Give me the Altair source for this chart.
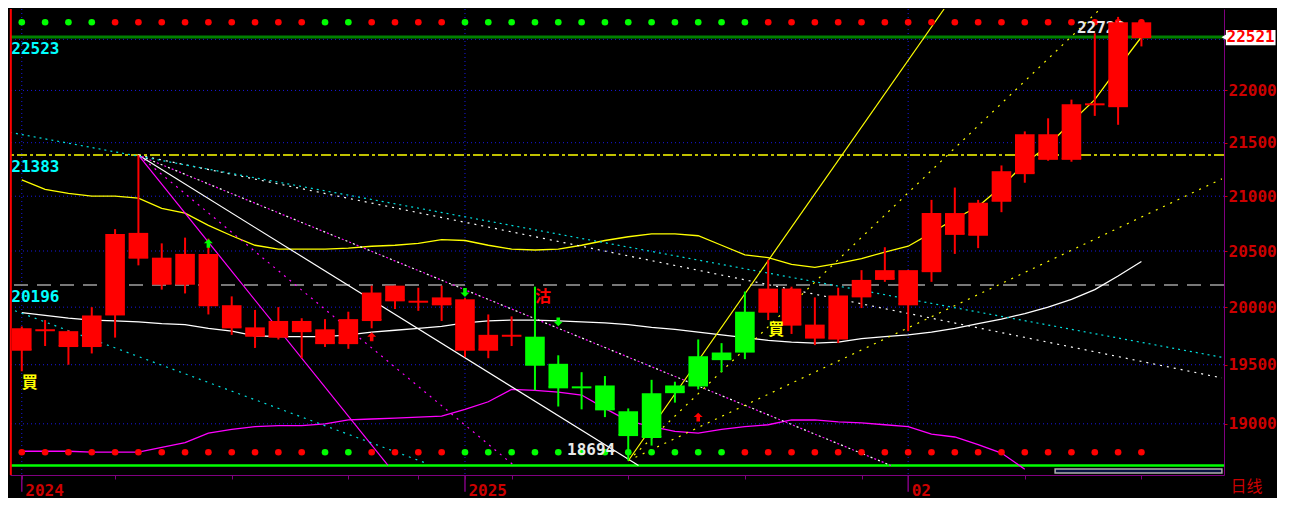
import altair as alt
import pandas as pd

# ---------------- data ----------------
idx = list(range(49))
high = [19831, 19887, 19798, 20000, 20698, 21383, 20569, 20621, 20612, 20095,
        19976, 20000, 19903, 19895, 19960, 20190, 20190, 20172, 20190, 20080,
        19936, 19919, 20181, 19581, 19436, 19403, 19129, 19371, 19355, 19718,
        19686, 20138, 20422, 20181, 20086, 20172, 20328, 20534, 20330, 20966,
        21080, 20966, 21286, 21607, 21732, 21911, 22560, 22723, 22700]
low = [19444, 19661, 19500, 19597, 19734, 20371, 20155, 20121, 19936, 19758,
       19645, 19718, 19556, 19653, 19637, 19815, 19984, 19968, 19879, 19565,
       19556, 19661, 19282, 19145, 19121, 19056, 18694, 18819, 19178, 19290,
       19436, 19548, 19887, 19766, 19669, 19686, 19992, 20224, 19790, 20224,
       20474, 20526, 20853, 21125, 21330, 21321, 21755, 21670, 22430]
body_top = [19815, 19798, 19790, 19927, 20655, 20664, 20440, 20474, 20474, 20017,
            19823, 19879, 19879, 19806, 19895, 20129, 20190, 20048, 20086, 20069,
            19758, 19750, 19742, 19508, 19307, 19323, 19105, 19258, 19323, 19573,
            19605, 19960, 20164, 20164, 19847, 20103, 20241, 20328, 20328, 20845,
            20845, 20940, 21232, 21580, 21580, 21866, 21866, 22669, 22669]
body_bot = [19629, 19798, 19661, 19661, 19936, 20440, 20207, 20207, 20017, 19823,
            19750, 19742, 19790, 19686, 19686, 19887, 20060, 20048, 20025, 19629,
            19629, 19750, 19500, 19307, 19307, 19121, 18906, 18890, 19266, 19323,
            19548, 19613, 19960, 19847, 19734, 19726, 20095, 20250, 20025, 20319,
            20655, 20647, 20958, 21214, 21348, 21348, 21866, 21848, 22521]
candle_col = ["R", "R", "R", "R", "R", "R", "R", "R", "R", "R", "R", "R", "R", "R", "R", "R", "R",
              "R", "R", "R", "R", "R", "G", "G", "G", "G", "G", "G", "G", "G", "G", "G", "R", "R",
              "R", "R", "R", "R", "R", "R", "R", "R", "R", "R", "R", "R", "R", "R", "R"]
top_dot_col = ["G", "G", "G", "G", "R", "R", "R", "R", "R", "R", "R", "R", "R", "G", "G", "R", "R",
               "R", "R", "G", "G", "G", "G", "G", "G", "G", "G", "G", "G", "G", "G", "G", "R", "R",
               "R", "R", "R", "R", "R", "R", "R", "R", "R", "R", "R", "R", "R", "R", "R"]
bot_dot_col = ["R", "R", "R", "R", "R", "R", "R", "R", "R", "R", "R", "R", "R", "G", "G", "R", "R",
               "R", "R", "G", "G", "G", "G", "G", "G", "G", "G", "G", "G", "G", "G", "R", "R", "R",
               "R", "R", "R", "R", "R", "R", "R", "R", "R", "R", "R", "R", "R", "R", "R"]

ma_upper = [21152, 21063, 21027, 21000, 21000, 20983, 20888, 20845, 20733, 20638,
            20552, 20517, 20517, 20517, 20526, 20543, 20552, 20569, 20603, 20595,
            20552, 20517, 20509, 20517, 20552, 20595, 20629, 20655, 20655, 20638,
            20552, 20466, 20440, 20379, 20353, 20388, 20431, 20491, 20543, 20664,
            20793, 20905, 21089, 21304, 21473, 21696, 21911, 22220, 22523]
ma_mid = [19952, 19927, 19903, 19887, 19879, 19871, 19855, 19847, 19815, 19790,
          19750, 19742, 19742, 19742, 19758, 19782, 19798, 19815, 19831, 19863,
          19879, 19887, 19887, 19879, 19871, 19863, 19847, 19823, 19806, 19782,
          19758, 19734, 19710, 19694, 19686, 19694, 19726, 19742, 19758, 19782,
          19815, 19855, 19895, 19944, 20000, 20069, 20155, 20276, 20405]
ma_lower = [18772, 18772, 18772, 18764, 18764, 18764, 18804, 18843, 18922, 18953,
            18976, 18984, 18984, 19000, 19032, 19040, 19048, 19056, 19064, 19121,
            19185, 19290, 19282, 19266, 19242, 19129, 19024, 18976, 18937, 18922,
            18953, 18976, 18992, 19032, 19032, 19016, 19008, 18992, 18976, 18914,
            18890, 18827, 18757, 18624]

# straight trend lines: start / end (candle index, price)
trend_x0 = [5, 5, 5, 5, 5, -0.505, -0.29, 26, 26, 26]
trend_p0 = [21383, 21383, 21383, 21383, 21383, 21598, 19968, 18694, 18694, 18694]
trend_x1 = [15.7, 21.1, 26.44, 37.26, 51.45, 51.45, 17.39, 39.54, 46.23, 51.45]
trend_p1 = [18655, 18655, 18655, 18655, 19387, 19564, 18670, 22802, 22802, 21161]

levels = [22523, 21383, 20196]
grid_prices = [22500, 22000, 21500, 21000, 20500, 20000, 19500, 19000]
axis_prices = [19000, 19500, 20000, 20500, 21000, 21500, 22000]
grid_idx = [0, 19, 38]
tick_idx = [0, 4, 9, 14, 17, 19, 21, 26, 31, 36, 38, 43, 48]
major_labels = ["2024", "2025", "02"]
last_price = 22521
bottom_line_price = 18655
top_dot_price = 22669
bot_dot_price = 18764
hi_label = 22723
lo_label = 18694

sig_i = [0, 32, 22]
sig_p = [19347, 19798, 20086]
sig_t = ["買", "買", "沽"]
sig_c = ["#ffff00", "#ffff00", "#ff0000"]
arr_i = [19, 23, 8, 15, 29]
arr_p = [20129, 19871, 20569, 19742, 19056]
arr_dir = ["down", "down", "up", "up", "up"]
arr_c = ["#00ff00", "#00ff00", "#00ff00", "#ff0000", "#ff0000"]

# ---------------- styling ----------------
RED, GREEN = "#ff0000", "#00ff00"
PURPLE = "#800080"
AXRED = "#cc0000"
MONO = "DejaVu Sans Mono"
X_DOMAIN = [-0.505, 51.54]
Y_DOMAIN = [18577, 22802]
W, H = 1214, 466
UP_ARROW = "M0,-1 L1,0 L0.4,0 L0.4,1 L-0.4,1 L-0.4,0 L-1,0 Z"
DOWN_ARROW = "M0,1 L1,0 L0.4,0 L0.4,-1 L-0.4,-1 L-0.4,0 L-1,0 Z"

xs = alt.Scale(domain=X_DOMAIN, nice=False, zero=False)
ys = alt.Scale(type="log", domain=Y_DOMAIN, nice=False, zero=False)
lab_expr = ("datum.value == 0 ? '%s' : datum.value == 19 ? '%s' : datum.value == 38 ? '%s' : ''"
            % tuple(major_labels))
x_axis = alt.Axis(values=tick_idx, labelExpr=lab_expr, grid=False, tickColor=PURPLE,
                  domainColor=PURPLE, tickSize=4, labelAlign="left", labelBaseline="top",
                  labelOffset=3, labelPadding=3, labelColor=AXRED, labelFont=MONO,
                  labelFontSize=16, labelFontWeight="bold", labelOverlap=False,
                  labelFlush=False, labelBound=False)
y_axis = alt.Axis(orient="right", values=axis_prices, format="d", grid=False,
                  tickColor=AXRED, tickSize=3, domainColor=PURPLE, labelPadding=1,
                  labelColor=AXRED, labelFont=MONO, labelFontSize=16,
                  labelFontWeight="bold", labelOverlap=False, labelFlush=False)


def X(f):
    return alt.X(f, type="quantitative", scale=xs, axis=x_axis, title=None)


def Y(f):
    return alt.Y(f, type="quantitative", scale=ys, axis=y_axis, title=None)


layers = []

# grid
layers.append(alt.Chart(pd.DataFrame({"p": grid_prices})).mark_rule(
    color="#1818e0", strokeDash=[1, 3], strokeWidth=1).encode(y=Y("p")))
layers.append(alt.Chart(pd.DataFrame({"i": grid_idx})).mark_rule(
    color="#1818e0", strokeDash=[1, 3], strokeWidth=1).encode(x=X("i")))

# level lines
layers.append(alt.Chart(pd.DataFrame({"p": [levels[2]]})).mark_rule(
    color="#a0a0a0", strokeDash=[14, 9], strokeWidth=1.5).encode(y=Y("p")))
layers.append(alt.Chart(pd.DataFrame({"p": [levels[1]]})).mark_rule(
    color="#ffff00", strokeDash=[10, 3, 3, 3], strokeWidth=1.5).encode(y=Y("p")))
layers.append(alt.Chart(pd.DataFrame({"p": [levels[0]]})).mark_rule(
    color="#008000", strokeWidth=3).encode(y=Y("p")))
layers.append(alt.Chart(pd.DataFrame({"p": [bottom_line_price]})).mark_rule(
    color="#00ff00", strokeWidth=2.5).encode(y=Y("p")))

# moving-average style lines
layers.append(alt.Chart(pd.DataFrame({"i": idx, "p": ma_upper})).mark_line(
    color="#ffff00", strokeWidth=1.3, clip=True).encode(x=X("i"), y=Y("p")))
layers.append(alt.Chart(pd.DataFrame({"i": idx, "p": ma_mid})).mark_line(
    color="#ffffff", strokeWidth=1.3, clip=True).encode(x=X("i"), y=Y("p")))
layers.append(alt.Chart(pd.DataFrame({"i": list(range(len(ma_lower))), "p": ma_lower})).mark_line(
    color="#ff00ff", strokeWidth=1.3, clip=True).encode(x=X("i"), y=Y("p")))

# trend lines
styles = [
    [("#ff00ff", None, 0)],
    [("#ff00ff", [2, 5], 0)],
    [("#ffffff", None, 0)],
    [("#ffffff", [2, 6], 0), ("#ff00ff", [2, 6], 4)],
    [("#ffffff", [2, 5], 0)],
    [("#00e0e0", [2, 4], 0)],
    [("#00e0e0", [2, 5], 0)],
    [("#ffff00", None, 0)],
    [("#ffff00", [2, 6], 0)],
    [("#ffff00", [2, 6], 0)],
]
for k in range(len(trend_x0)):
    df = pd.DataFrame({"i": [trend_x0[k], trend_x1[k]], "p": [trend_p0[k], trend_p1[k]]})
    for col, dash, off in styles[k]:
        kw = dict(color=col, strokeWidth=1.2, clip=True)
        if dash:
            kw["strokeDash"] = dash
            kw["strokeDashOffset"] = off
        layers.append(alt.Chart(df).mark_line(**kw).encode(x=X("i"), y=Y("p")))

# signal dot rows
dots = pd.DataFrame({"i": idx, "tc": top_dot_col, "bc": bot_dot_col,
                     "tp": [top_dot_price] * 49, "bp": [bot_dot_price] * 49})
dot_scale = alt.Scale(domain=["R", "G"], range=[RED, GREEN])
layers.append(alt.Chart(dots).mark_circle(size=44, opacity=1).encode(
    x=X("i"), y=Y("tp"), color=alt.Color("tc:N", scale=dot_scale, legend=None)))
layers.append(alt.Chart(dots).mark_circle(size=44, opacity=1).encode(
    x=X("i"), y=Y("bp"), color=alt.Color("bc:N", scale=dot_scale, legend=None)))

# level labels
layers.append(alt.Chart(pd.DataFrame({"i": [-0.45] * 3, "p": levels, "t": [str(v) for v in levels]}))
              .mark_text(align="left", baseline="top", dy=4, color="#00ffff", font=MONO,
                         fontSize=16, fontWeight="bold")
              .encode(x=X("i"), y=Y("p"), text="t:N"))
# extreme labels
layers.append(alt.Chart(pd.DataFrame({"i": [47], "p": [hi_label], "t": [str(hi_label)]}))
              .mark_text(align="right", baseline="top", dx=7, dy=3, color="#e8e8e8", font=MONO,
                         fontSize=16, fontWeight="bold")
              .encode(x=X("i"), y=Y("p"), text="t:N"))
layers.append(alt.Chart(pd.DataFrame({"i": [26], "p": [lo_label], "t": [str(lo_label)]}))
              .mark_text(align="right", baseline="bottom", dx=-13, dy=-3, color="#e8e8e8", font=MONO,
                         fontSize=16, fontWeight="bold")
              .encode(x=X("i"), y=Y("p"), text="t:N"))

# candles
cdf = pd.DataFrame({"i": idx, "high": high, "low": low, "top": body_top, "bot": body_bot,
                    "col": candle_col})
cbase = alt.Chart(cdf).transform_calculate(x0="datum.i - 0.42", x1="datum.i + 0.42")
ccol = alt.Color("col:N", scale=dot_scale, legend=None)
layers.append(cbase.mark_rule(strokeWidth=2).encode(x=X("i"), y=Y("low"), y2="high", color=ccol))
layers.append(cbase.mark_rect().encode(x=X("x0:Q"), x2="x1:Q", y=Y("top"), y2="bot", color=ccol))
layers.append(cbase.mark_rule(strokeWidth=2).encode(x=X("x0:Q"), x2="x1:Q", y=Y("bot"), color=ccol))

# signals
layers.append(alt.Chart(pd.DataFrame({"i": sig_i, "p": sig_p, "t": sig_t, "c": sig_c}))
              .mark_text(dx=8, fontSize=16, font="Noto Sans CJK TC", fontWeight="bold")
              .encode(x=X("i"), y=Y("p"), text="t:N", color=alt.Color("c:N", scale=None)))
arr_df = pd.DataFrame({"i": arr_i, "p": arr_p, "d": arr_dir, "c": arr_c})
for d, path in (("up", UP_ARROW), ("down", DOWN_ARROW)):
    layers.append(alt.Chart(arr_df).transform_filter(alt.datum.d == d)
                  .mark_point(shape=path, filled=True, size=80, opacity=1)
                  .encode(x=X("i"), y=Y("p"), color=alt.Color("c:N", scale=None)))

# left red border
layers.append(alt.Chart(pd.DataFrame({"i": [-0.47], "p0": [Y_DOMAIN[1]], "p1": [Y_DOMAIN[0]]}))
              .mark_rule(color=RED, strokeWidth=2).encode(x=X("i"), y=Y("p0"), y2="p1"))
# major x ticks extend downward
layers.append(alt.Chart(pd.DataFrame({"i": grid_idx, "p0": [Y_DOMAIN[0]] * 3, "p1": [18440] * 3}))
              .mark_rule(color=PURPLE, strokeWidth=1.5).encode(x=X("i"), y=Y("p0"), y2="p1"))
# scroll indicator box
layers.append(alt.Chart(pd.DataFrame({"a": [44.3], "b": [51.45], "p0": [18627], "p1": [18593]}))
              .mark_rect(fill="#0a1440", stroke="#b0b0b0", strokeWidth=1.5)
              .encode(x=X("a"), x2="b", y=Y("p0"), y2="p1"))
# last price tag on the right axis
layers.append(alt.Chart(pd.DataFrame({"a": [51.62], "b": [53.75], "p0": [22592], "p1": [22442]}))
              .mark_rect(fill="#ffffff").encode(x=X("a"), x2="b", y=Y("p0"), y2="p1"))
layers.append(alt.Chart(pd.DataFrame({"i": [51.55], "p": [last_price]}))
              .mark_point(shape="triangle-left", filled=True, size=40, color="#ffffff", opacity=1)
              .encode(x=X("i"), y=Y("p")))
layers.append(alt.Chart(pd.DataFrame({"i": [52.68], "p": [last_price], "t": [str(last_price)]}))
              .mark_text(color=RED, font=MONO, fontSize=16, fontWeight="bold")
              .encode(x=X("i"), y=Y("p"), text="t:N"))
# period label
layers.append(alt.Chart(pd.DataFrame({"i": [52.5], "p": [18477], "t": ["日线"]}))
              .mark_text(color=AXRED, font="Noto Sans CJK SC", fontSize=16)
              .encode(x=X("i"), y=Y("p"), text="t:N"))

chart = alt.layer(*layers).properties(
    width=W, height=H, background="#000000", padding=0
).configure_view(strokeWidth=0)

chart.save("out.html", embed_options={"renderer": "svg", "actions": False})
